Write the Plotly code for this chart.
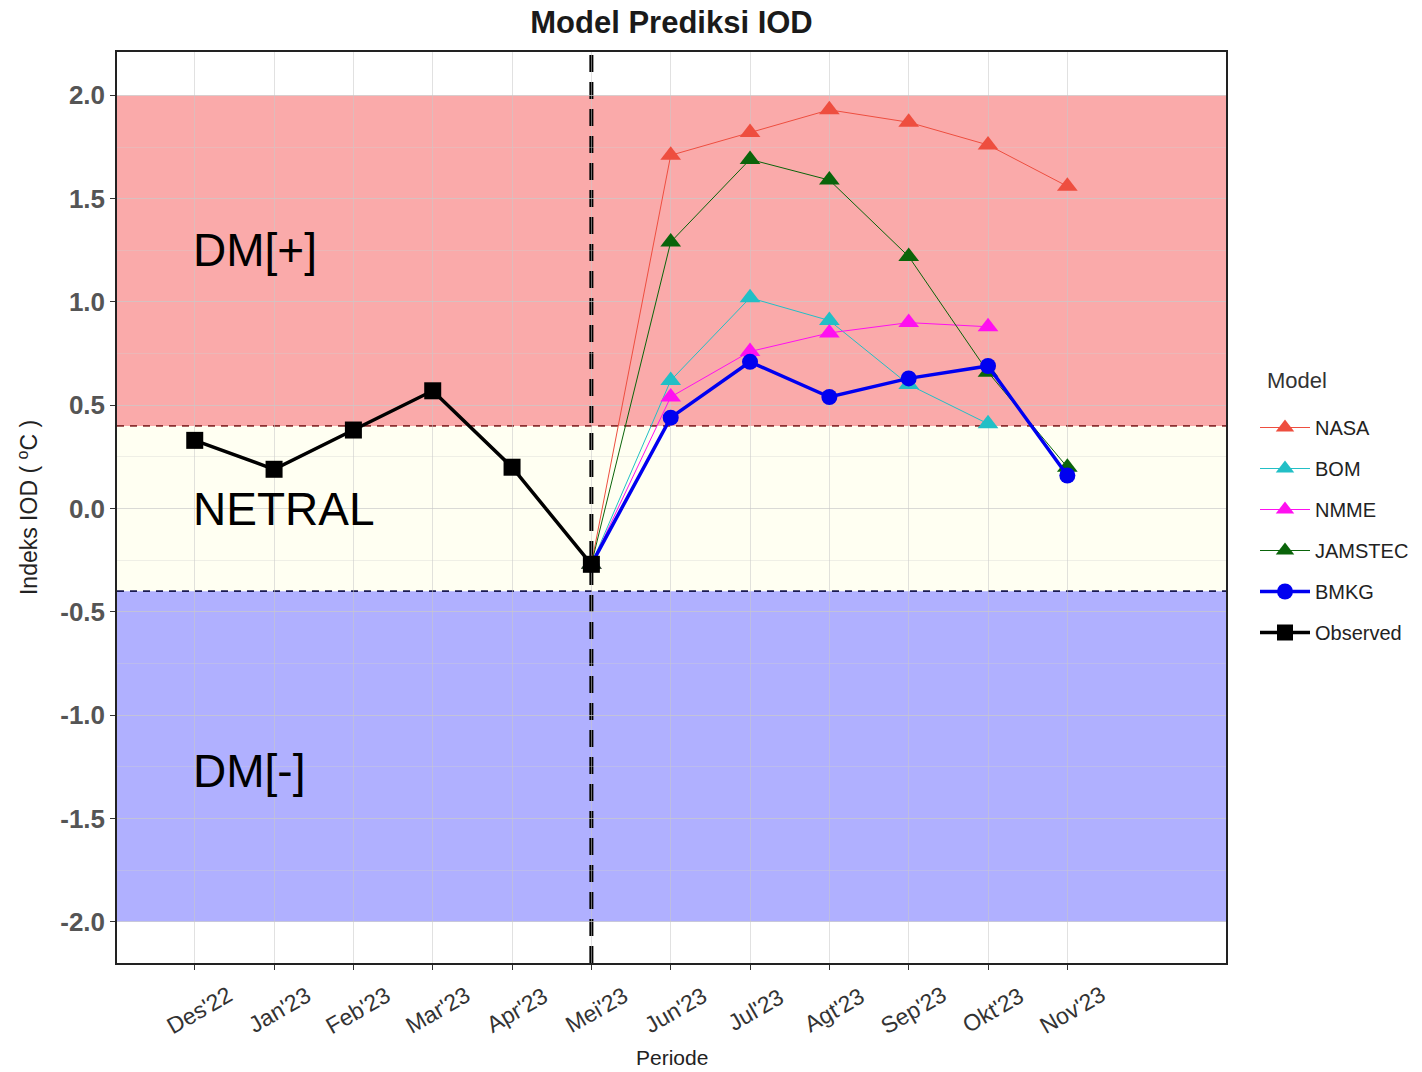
import plotly.graph_objects as go

periods = ["Des'22", "Jan'23", "Feb'23", "Mar'23", "Apr'23", "Mei'23",
           "Jun'23", "Jul'23", "Agt'23", "Sep'23", "Okt'23", "Nov'23"]
x_idx = list(range(len(periods)))

observed = [0.33, 0.19, 0.38, 0.57, 0.20, -0.27, None, None, None, None, None, None]
nasa     = [None, None, None, None, None, -0.27, 1.71, 1.82, 1.93, 1.87, 1.76, 1.56]
bom      = [None, None, None, None, None, -0.27, 0.62, 1.02, 0.91, 0.60, 0.41, None]
nmme     = [None, None, None, None, None, -0.27, 0.54, 0.76, 0.85, 0.90, 0.88, None]
jamstec  = [None, None, None, None, None, -0.27, 1.29, 1.69, 1.59, 1.22, 0.66, 0.20]
bmkg     = [None, None, None, None, None, -0.27, 0.44, 0.71, 0.54, 0.63, 0.69, 0.16]

y_ticks = [-2.0, -1.5, -1.0, -0.5, 0.0, 0.5, 1.0, 1.5, 2.0]
pos_thr, neg_thr = 0.4, -0.4
band_top, band_bot = 2.0, -2.0
split_idx = 5  # Mei'23

FONT = "Arial, Liberation Sans, sans-serif"

series = [
    ("NASA", nasa, "#EE4E3F", 1, "triangle-up", 18),
    ("BOM", bom, "#22BFC6", 1, "triangle-up", 18),
    ("NMME", nmme, "#FF10F0", 1, "triangle-up", 18),
    ("JAMSTEC", jamstec, "#0A640A", 1, "triangle-up", 18),
    ("BMKG", bmkg, "#0000F0", 3.5, "circle", 16),
    ("Observed", observed, "#000000", 3.5, "square", 17),
]

fig = go.Figure()
for name, vals, col, lw, sym, ms in series:
    fig.add_trace(go.Scatter(
        x=x_idx, y=vals, name=name, mode="lines+markers",
        legendgroup=name,
        line=dict(color=col, width=lw),
        marker=dict(color=col, symbol=sym, size=ms),
        connectgaps=False,
    ))

shapes = [
    dict(type="rect", xref="paper", x0=0, x1=1, yref="y", y0=pos_thr, y1=band_top,
         fillcolor="#FAAAAA", line=dict(width=0), layer="below"),
    dict(type="rect", xref="paper", x0=0, x1=1, yref="y", y0=neg_thr, y1=pos_thr,
         fillcolor="#FFFFF2", line=dict(width=0), layer="below"),
    dict(type="rect", xref="paper", x0=0, x1=1, yref="y", y0=band_bot, y1=neg_thr,
         fillcolor="#B0B0FF", line=dict(width=0), layer="below"),
    dict(type="line", xref="paper", x0=0, x1=1, yref="y", y0=pos_thr, y1=pos_thr,
         line=dict(color="#8B3030", width=1.6, dash="7px,6px"), layer="between"),
    dict(type="line", xref="paper", x0=0, x1=1, yref="y", y0=neg_thr, y1=neg_thr,
         line=dict(color="#1A1A50", width=1.6, dash="7px,6px"), layer="between"),
    dict(type="line", xref="x", x0=split_idx, x1=split_idx, yref="paper", y0=0, y1=1,
         line=dict(color="#000000", width=4, dash="17px,10px"), layer="between"),
]

annotations = [
    dict(x=0, y=1.25, xref="x", yref="y", text="DM[+]", showarrow=False, xshift=-4,
         xanchor="left", yanchor="middle", font=dict(size=46, color="#000000", family=FONT)),
    dict(x=0, y=0.0, xref="x", yref="y", text="NETRAL", showarrow=False, xshift=-4,
         xanchor="left", yanchor="middle", font=dict(size=46, color="#000000", family=FONT)),
    dict(x=0, y=-1.27, xref="x", yref="y", text="DM[-]", showarrow=False, xshift=-4,
         xanchor="left", yanchor="middle", font=dict(size=46, color="#000000", family=FONT)),
    # x-axis title
    dict(x=0.5, y=-(1057 - 963) / 911, xref="paper", yref="paper", text="Periode",
         showarrow=False, xanchor="center", yanchor="middle",
         font=dict(size=21, color="#222222", family=FONT)),
    # legend title
    dict(x=(1265 - 117) / 1109, y=(963 - 380) / 911, xref="paper", yref="paper", text="Model",
         showarrow=False, xanchor="left", yanchor="middle",
         font=dict(size=22, color="#333333", family=FONT)),
]
# rotated x tick labels, centred on each category position
for i, lab in zip(x_idx, periods):
    annotations.append(dict(
        x=i, y=-(1010 - 963) / 911, xref="x", yref="paper", text=lab, showarrow=False,
        xanchor="center", yanchor="middle", textangle=-30, xshift=5,
        font=dict(size=23, color="#333333", family=FONT)))

fig.update_layout(
    width=1422, height=1072,
    margin=dict(l=117, r=196, t=52, b=109, autoexpand=False),
    paper_bgcolor="white", plot_bgcolor="white",
    font=dict(family=FONT, color="#000000"),
    title=dict(text="<b>Model Prediksi IOD</b>", x=(117 + 1226) / 2 / 1422, xanchor="center",
               y=1 - 22 / 1072, yanchor="middle", font=dict(size=31, color="#1A1A1A")),
    shapes=shapes, annotations=annotations,
    showlegend=True,
    legend=dict(x=(1255 - 117) / 1109, xanchor="left", y=(963 - 408) / 911, yanchor="top",
                font=dict(size=20, color="#222222"), tracegroupgap=12, itemwidth=50,
                bgcolor="rgba(0,0,0,0)"),
    xaxis=dict(range=[-0.98, 13.0], tickmode="array", tickvals=x_idx, showticklabels=False,
               showgrid=True, gridcolor="rgba(200,200,200,0.55)", gridwidth=1,
               zeroline=False, ticks="outside", ticklen=5, tickcolor="#333333",
               showline=True, linecolor="#222222", linewidth=1.5, mirror=True),
    yaxis=dict(range=[-2.2, 2.21], tickmode="array",
               tickvals=y_ticks,
               ticktext=["<b>%.1f</b>" % v for v in y_ticks],
               tickfont=dict(size=26, color="#555555"),
               showgrid=True, gridcolor="rgba(200,200,200,0.55)", gridwidth=1,
               minor=dict(dtick=0.25, tick0=0.25, showgrid=True,
                          gridcolor="rgba(210,210,210,0.35)", gridwidth=1),
               zeroline=False, ticks="outside", ticklen=5, tickcolor="#333333",
               showline=True, linecolor="#222222", linewidth=1.5, mirror=True,
               title=dict(text="Indeks IOD ( <sup>o</sup>C )", font=dict(size=23, color="#222222"),
                          standoff=16)),
)

fig.write_html("out.html", config={"displayModeBar": False},
               post_script="document.body.style.margin='0';")
